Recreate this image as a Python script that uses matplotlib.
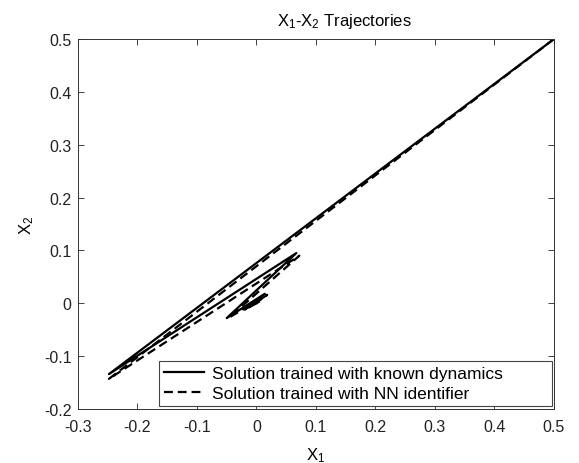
import matplotlib
matplotlib.use("Agg")
import matplotlib.pyplot as plt

plt.rcParams["font.family"] = ["Liberation Sans", "DejaVu Sans"]
plt.rcParams["font.size"] = 12

# trajectory vertices (x1, x2)
known_x1 = [0.5, -0.248, 0.067, -0.05, 0.014, -0.02, 0.008, -0.004, 0.0]
known_x2 = [0.5, -0.134, 0.095, -0.028, 0.018, -0.012, 0.008, -0.002, 0.0]

nn_x1 = [0.5, -0.248, 0.072, -0.046, 0.018, -0.016, 0.006, 0.0]
nn_x2 = [0.5, -0.143, 0.090, -0.027, 0.016, -0.010, 0.004, 0.0]

xticks = [-0.3, -0.2, -0.1, 0, 0.1, 0.2, 0.3, 0.4, 0.5]
yticks = [-0.2, -0.1, 0, 0.1, 0.2, 0.3, 0.4, 0.5]
tick_fmt = lambda v: "0" if v == 0 else f"{v:g}"

fig = plt.figure(figsize=(5.79, 4.64), dpi=100)
ax = fig.add_axes([0.1347, 0.1164, 0.8221, 0.7974])

ax.plot(known_x1, known_x2, "k-", lw=1.6, label="Solution trained with known dynamics")
ax.plot(nn_x1, nn_x2, "k--", lw=1.6, dashes=(4, 2.2),
        label="Solution trained with NN identifier")

ax.set_xlim(-0.3, 0.5)
ax.set_ylim(-0.2, 0.5)
ax.set_xticks(xticks)
ax.set_xticklabels([tick_fmt(v) for v in xticks])
ax.set_yticks(yticks)
ax.set_yticklabels([tick_fmt(v) for v in yticks])
ax.tick_params(direction="in", top=True, right=True, length=4, width=0.6,
               labelsize=11.5, colors="#222222")
ax.tick_params(axis="x", pad=7)
ax.tick_params(axis="y", pad=4.5)
for s in ax.spines.values():
    s.set_linewidth(0.7)
    s.set_color("#333333")

ax.set_xlabel(r"$\mathregular{X_1}$", fontsize=12, labelpad=8)
ax.set_ylabel(r"$\mathregular{X_2}$", fontsize=12, labelpad=6)
ax.set_title(r"$\mathregular{X_1}$-$\mathregular{X_2}$ Trajectories",
             fontsize=12, x=0.56, pad=10)

leg = ax.legend(loc="lower left", bbox_to_anchor=(0.170, 0.008, 0.826, 0.14),
                mode="expand", fancybox=False, framealpha=1,
                edgecolor="#444444", fontsize=12.5, handlelength=2.3,
                borderaxespad=0, borderpad=0.3, labelspacing=0.25,
                handletextpad=0.45)
leg.get_frame().set_linewidth(0.8)

fig.savefig("out.png", dpi=100)
